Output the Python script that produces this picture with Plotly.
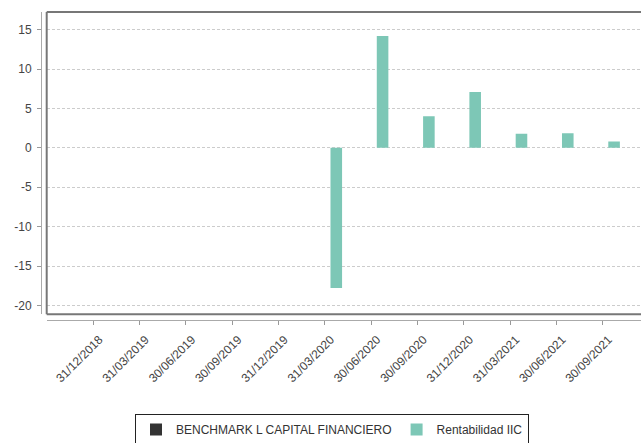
import plotly.graph_objects as go

categories = ["31/12/2018", "31/03/2019", "30/06/2019", "30/09/2019", "31/12/2019",
              "31/03/2020", "30/06/2020", "30/09/2020", "31/12/2020", "31/03/2021",
              "30/06/2021", "30/09/2021"]
benchmark = [None] * 12
rentabilidad = [None, None, None, None, None, -17.8, 14.2, 4.0, 7.1, 1.8, 1.85, 0.8]
yticks = [-20, -15, -10, -5, 0, 5, 10, 15]
yticklabels = ["-20", "-15", "-10", "-5", "0", "5", "10", "15"]

xpos = list(range(len(categories)))

W, H = 641, 443
ml, mr, mt, mb = 41, 0, 12, 123
pw, ph = W - ml - mr, H - mt - mb
xdom0 = (46.7 - ml) / pw
ydom0 = (320 - 314.3) / ph

fig = go.Figure()
fig.add_trace(go.Bar(x=xpos, y=benchmark, name="BENCHMARK L CAPITAL FINANCIERO",
                     marker=dict(color="#333333", line=dict(width=0)),
                     offset=-0.127, width=0.25))
fig.add_trace(go.Bar(x=xpos, y=rentabilidad, name="Rentabilidad IIC",
                     marker=dict(color="#7DC7B6", line=dict(width=0)),
                     offset=0.123, width=0.25))

font = "Liberation Sans, Arial, sans-serif"
frame_line = dict(color="#777777", width=2)
frame = [
    dict(type="line", xref="paper", yref="paper", x0=xdom0, x1=1, y0=1, y1=1,
         line=frame_line, layer="above"),
    dict(type="line", xref="paper", yref="paper", x0=xdom0, x1=1, y0=ydom0, y1=ydom0,
         line=frame_line, layer="above"),
    dict(type="line", xref="paper", yref="paper", x0=xdom0, x1=xdom0, y0=ydom0, y1=1,
         line=frame_line, layer="above"),
]
fig.update_layout(
    width=W, height=H,
    margin=dict(l=ml, r=mr, t=mt, b=mb, pad=0, autoexpand=False),
    paper_bgcolor="white", plot_bgcolor="white",
    barmode="overlay",
    font=dict(family=font, size=12, color="#444444"),
    showlegend=True,
    legend=dict(orientation="h", x=(332 - ml) / pw, xanchor="center",
                y=(320 - 445) / ph, yanchor="bottom",
                bordercolor="#222222", borderwidth=1,
                font=dict(family=font, size=12, color="#333333"),
                itemwidth=30, tracegroupgap=0),
    xaxis=dict(domain=[xdom0, 1], anchor="free", position=0,
               range=[(46.7 - 93.3) / 46.3, (641 - 93.3) / 46.3],
               tickmode="array", tickvals=xpos, ticktext=categories,
               tickangle=-45, ticks="outside", ticklen=4, tickcolor="#999999",
               ticklabelshift=6, ticklabelstandoff=3,
               showline=True, linecolor="#aaaaaa", linewidth=1,
               showgrid=False, zeroline=False,
               tickfont=dict(family=font, size=12, color="#444444")),
    yaxis=dict(domain=[ydom0, 1], anchor="free", position=0,
               range=[-21.13, 17.25],
               tickmode="array", tickvals=yticks, ticktext=yticklabels,
               ticks="outside", ticklen=4, tickcolor="#999999",
               ticklabelstandoff=3,
               showline=True, linecolor="#aaaaaa", linewidth=1,
               showgrid=True, gridcolor="#cccccc", gridwidth=1, griddash="3px,2px",
               zeroline=False,
               tickfont=dict(family=font, size=12, color="#444444")),
    shapes=frame,
)

fig.write_html("out.html")
